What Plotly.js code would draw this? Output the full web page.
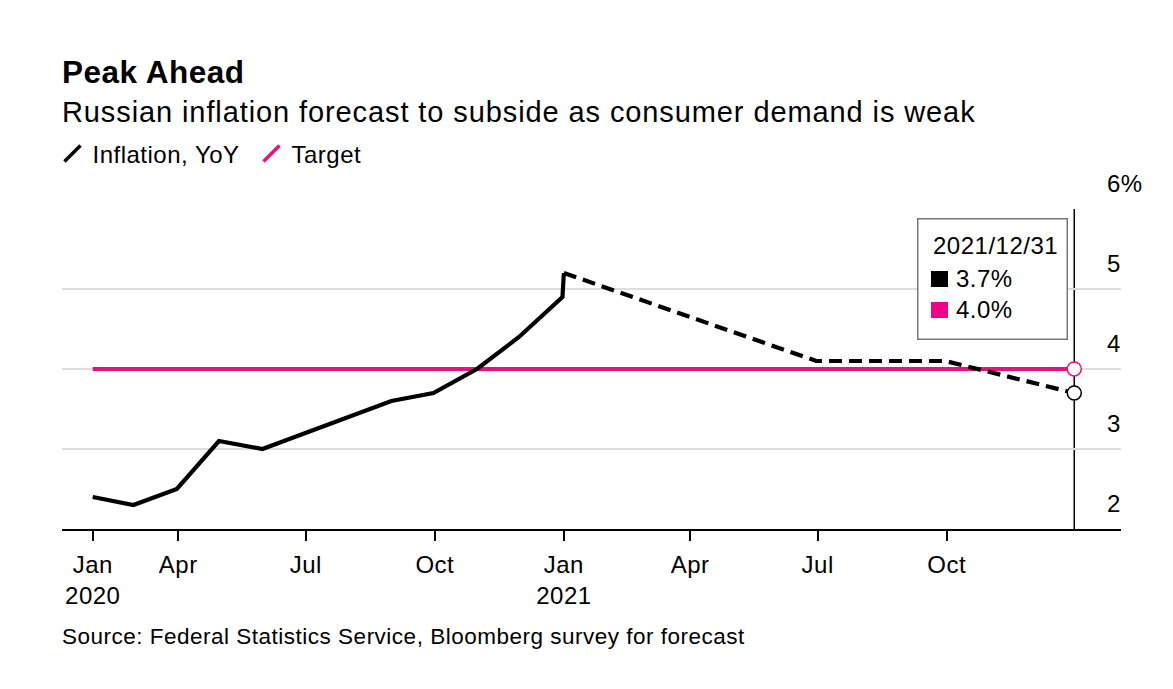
<!DOCTYPE html>
<html>
<head>
<meta charset="utf-8">
<script src="https://cdn.plot.ly/plotly-3.0.1.min.js"></script>
<style>
  html, body { margin: 0; padding: 0; background: #fff; }
  #chart { width: 1173px; height: 689px; }
  text { letter-spacing: 0.5px; }
</style>
</head>
<body>
<div id="chart"></div>
<script>
// ---- data ----
const actualDates = ['2020-01-31','2020-02-29','2020-03-31','2020-04-30','2020-05-31','2020-06-30',
                     '2020-07-31','2020-08-31','2020-09-30','2020-10-31','2020-11-30','2020-12-31','2021-01-01'];
const actualValues = [2.4, 2.3, 2.5, 3.1, 3.0, 3.2, 3.4, 3.6, 3.7, 4.0, 4.4, 4.9, 5.2];
const forecastDates = ['2021-01-01','2021-06-30','2021-09-30','2021-12-31'];
const forecastValues = [5.2, 4.1, 4.1, 3.7];
const targetDates = ['2020-01-31','2021-12-31'];
const targetValues = [4.0, 4.0];
const hoverDate = '2021-12-31';
const hoverLabel = '2021/12/31';
const xTickVals = ['2020-01-31','2020-04-01','2020-07-01','2020-10-01','2021-01-01','2021-04-01','2021-07-01','2021-10-01'];
const xTickText = ['Jan<br>2020','Apr','Jul','Oct','Jan<br>2021','Apr','Jul','Oct'];
const yTickVals = [2, 3, 4, 5, 6];
const yTickText = ['2', '3', '4', '5', '6%'];
const seriesNames = ['Inflation, YoY', 'Target'];

const BLACK = '#000000';
const PINK = '#e6117f';
const PINK_SWATCH = '#ee0087';
const FONT = '"Liberation Sans", Arial, Helvetica, sans-serif';

const lastActual = forecastValues[forecastValues.length - 1];
const lastTarget = targetValues[targetValues.length - 1];

const traces = [
  { x: targetDates, y: targetValues, mode: 'lines', line: { color: PINK, width: 4 },
    showlegend: false, hoverinfo: 'skip' },
  { x: actualDates, y: actualValues, mode: 'lines', line: { color: BLACK, width: 4.2 },
    showlegend: false, hoverinfo: 'skip' },
  { x: forecastDates, y: forecastValues, mode: 'lines', line: { color: BLACK, width: 4.2, dash: '13px,7px' },
    showlegend: false, hoverinfo: 'skip' },
  { x: [hoverDate], y: [lastTarget], mode: 'markers',
    marker: { symbol: 'circle', size: 14, color: '#ffffff', line: { color: PINK, width: 1.5 } },
    showlegend: false, hoverinfo: 'skip' },
  { x: [hoverDate], y: [lastActual], mode: 'markers',
    marker: { symbol: 'circle', size: 14, color: '#ffffff', line: { color: BLACK, width: 1.5 } },
    showlegend: false, hoverinfo: 'skip' },
  // legend entries
  { x: [null], y: [null], mode: 'markers', name: seriesNames[0],
    marker: { symbol: 'line-ne-open', size: 16, color: BLACK, line: { color: BLACK, width: 3.5 } } },
  { x: [null], y: [null], mode: 'markers', name: seriesNames[1],
    marker: { symbol: 'line-ne-open', size: 16, color: PINK, line: { color: PINK, width: 3.5 } } }
];

// tooltip-like readout box, anchored at the hover date / top of plot
function tip(extra) {
  return Object.assign({ xref: 'x', yref: 'paper', x: hoverDate, y: 1, showarrow: false }, extra);
}
const tipFont = { family: FONT, size: 24, color: '#000' };

const layout = {
  width: 1173, height: 689,
  margin: { l: 62, r: 52, t: 209, b: 159.5 },
  paper_bgcolor: '#ffffff', plot_bgcolor: '#ffffff',
  font: { family: FONT, size: 24, color: '#000' },
  title: {
    text: '<b>Peak Ahead</b>',
    font: { family: FONT, size: 31.5, color: '#000' },
    xref: 'container', x: 62 / 1173, xanchor: 'left',
    yref: 'container', y: 1 - 72 / 689, yanchor: 'middle'
  },
  showlegend: true,
  legend: {
    orientation: 'h', x: -0.009, xanchor: 'left', y: 1.172, yanchor: 'middle',
    font: { family: FONT, size: 24, color: '#000' },
    entrywidth: 154, entrywidthmode: 'pixels', bgcolor: 'rgba(0,0,0,0)'
  },
  xaxis: {
    type: 'date',
    range: ['2020-01-09 02:00', '2022-02-02 08:00'],
    tickvals: xTickVals, ticktext: xTickText,
    showgrid: false, zeroline: false,
    showline: true, linecolor: '#000', linewidth: 2,
    ticks: 'outside', ticklen: 10, tickwidth: 2, tickcolor: '#000',
    ticklabelstandoff: 3,
    tickfont: { family: FONT, size: 24, color: '#000' },
    fixedrange: true
  },
  yaxis: {
    range: [2, 6],
    side: 'right',
    tickvals: yTickVals, ticktext: yTickText,
    showgrid: true, gridcolor: '#dddddd', gridwidth: 1.5,
    zeroline: false, showline: false, ticks: '',
    ticklabelposition: 'outside',
    ticklabelstandoff: -15,
    ticklabelshift: -25,
    tickfont: { family: FONT, size: 24, color: '#000' },
    fixedrange: true
  },
  shapes: [
    { type: 'line', xref: 'x', yref: 'paper', x0: hoverDate, x1: hoverDate, y0: 0, y1: 1,
      line: { color: '#000', width: 1.5 }, layer: 'below' }
  ],
  annotations: [
    { text: '<span style="letter-spacing:0.9px">Russian inflation forecast to subside as consumer demand is weak</span>',
      xref: 'paper', yref: 'paper', x: 0, xanchor: 'left', xshift: -2, y: 1.3027, yanchor: 'middle',
      showarrow: false, font: { family: FONT, size: 29, color: '#000' } },
    { text: 'Source: Federal Statistics Service, Bloomberg survey for forecast',
      xref: 'paper', yref: 'paper', x: 0, xanchor: 'left', xshift: -2, y: -0.3354, yanchor: 'middle',
      showarrow: false, font: { family: FONT, size: 22.5, color: '#000' } },
    // box
    tip({ text: ' ', xanchor: 'right', xshift: -6, yanchor: 'top', yshift: -8.5,
          width: 148, height: 119, borderpad: 0, borderwidth: 1.5,
          bordercolor: '#777777', bgcolor: '#ffffff' }),
    // date line
    tip({ text: hoverLabel, xanchor: 'left', xshift: -143, yanchor: 'middle', yshift: -36,
          font: tipFont }),
    // swatches
    tip({ text: ' ', xanchor: 'center', xshift: -135, yanchor: 'middle', yshift: -69.5,
          width: 17, height: 16, borderpad: 0, borderwidth: 0, bgcolor: BLACK }),
    tip({ text: ' ', xanchor: 'center', xshift: -135, yanchor: 'middle', yshift: -100.5,
          width: 17, height: 16, borderpad: 0, borderwidth: 0, bgcolor: PINK_SWATCH }),
    // values
    tip({ text: lastActual.toFixed(1) + '%', xanchor: 'left', xshift: -120, yanchor: 'middle', yshift: -69,
          font: tipFont }),
    tip({ text: lastTarget.toFixed(1) + '%', xanchor: 'left', xshift: -120, yanchor: 'middle', yshift: -100.5,
          font: tipFont })
  ]
};

Plotly.newPlot('chart', traces, layout, { displayModeBar: false, staticPlot: true });
</script>
</body>
</html>
